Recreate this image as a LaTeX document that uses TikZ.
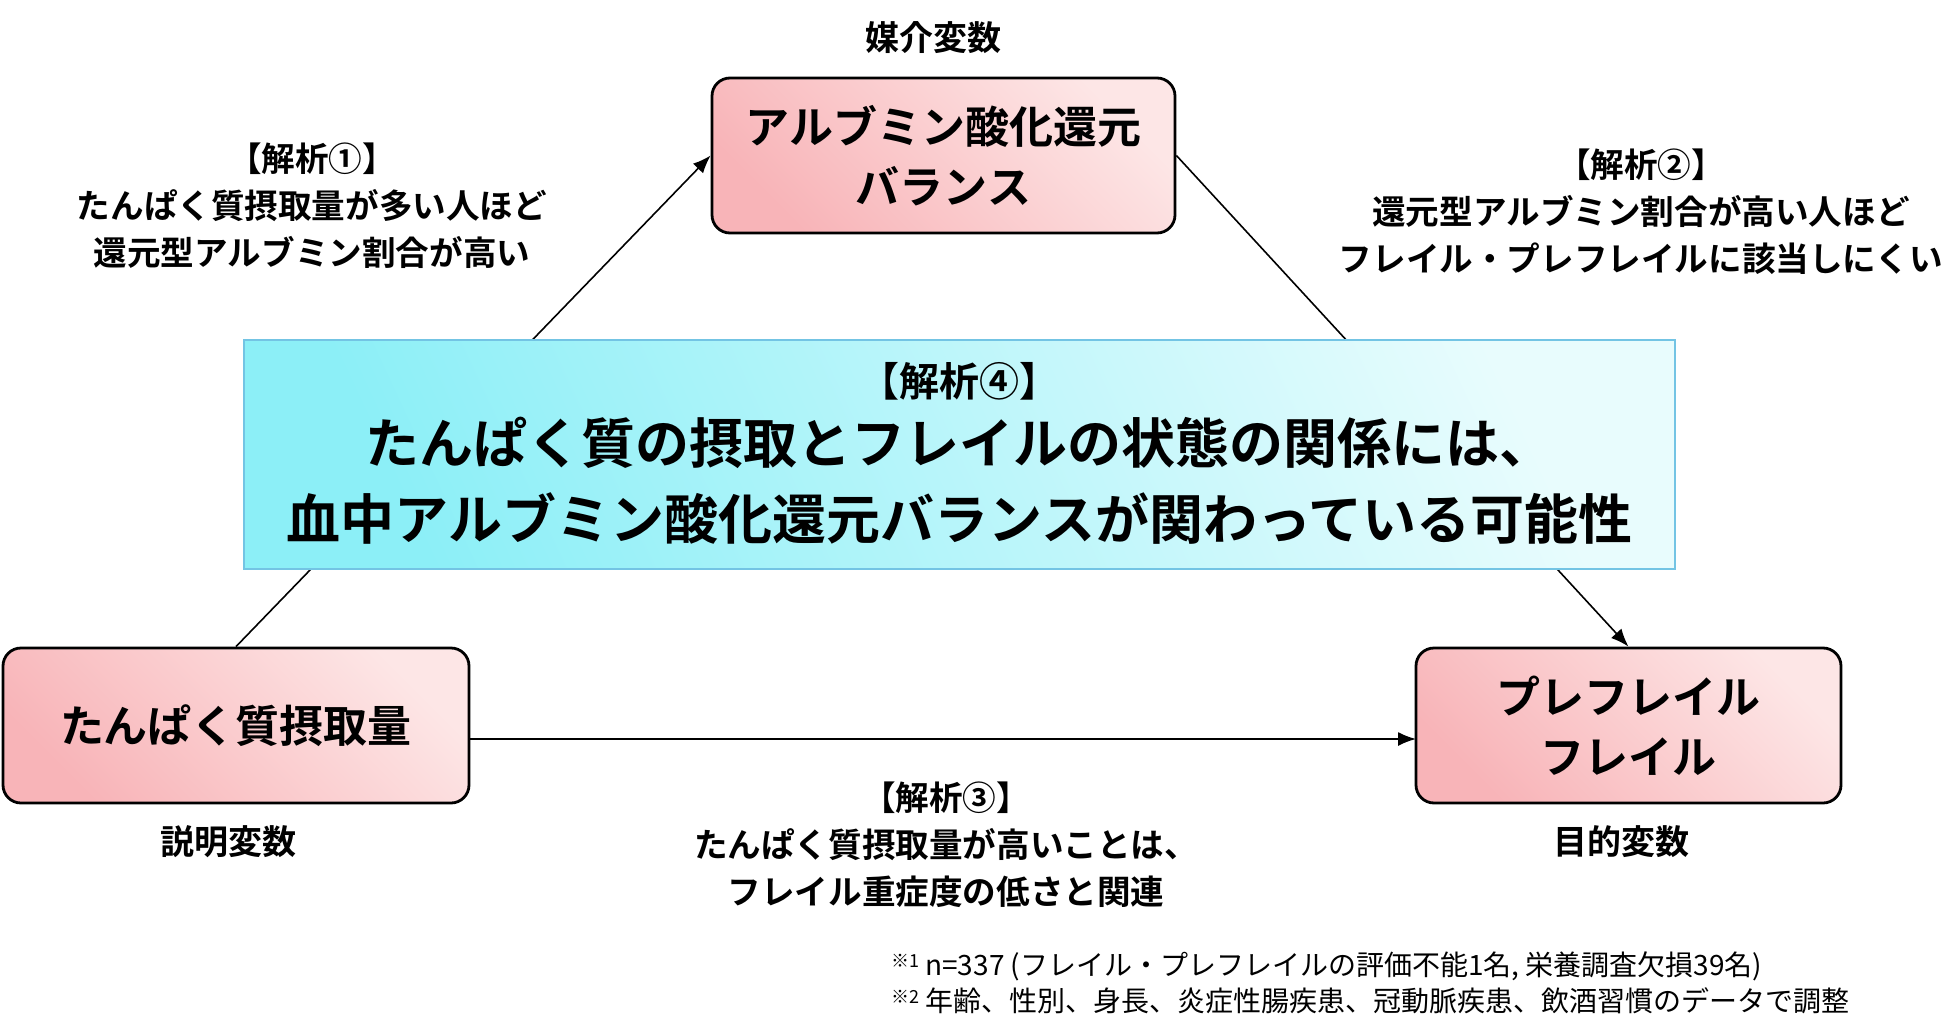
\documentclass[tikz,border=0pt]{standalone}
\usepackage{fontspec}
\setmainfont{Noto Sans CJK JP}
\newfontfamily\jpb{Noto Sans CJK JP Bold}[BoldFont={Noto Sans CJK JP Bold}]
\usetikzlibrary{arrows.meta}
\definecolor{pinkA}{HTML}{F8B4B8}
\definecolor{pinkB}{HTML}{FDE6E6}
\definecolor{cyA}{HTML}{8CEFF7}
\definecolor{cyB}{HTML}{E8FCFD}
\begin{document}
\begin{tikzpicture}[x=0.5pt,y=-0.5pt,
  pbox/.style={draw=black,line width=1.4pt,rounded corners=9pt,left color=pinkA,right color=pinkB,shading angle=135,inner sep=0pt,align=center,font=\jpb\fontsize{22}{30}\selectfont},
  ann/.style={align=center,font=\jpb\fontsize{16.8}{23.5}\selectfont},
  lab/.style={font=\jpb\fontsize{17}{20}\selectfont},
  conn/.style={line width=0.8pt},
  arr/.style={conn,-{Latex[length=9pt,width=7pt]}},
  foot/.style={anchor=west,font=\fontsize{14}{16}\selectfont}]
\useasboundingbox (0,0) rectangle (1950,1033);
% boxes
\node[pbox,minimum width=231.5pt,minimum height=77.5pt] (T) at (943.5,155.5) {アルブミン酸化還元\\バランス};
\node[pbox,minimum width=233pt,minimum height=77.5pt] (L) at (236,725.5) {たんぱく質摂取量};
\node[pbox,minimum width=212.5pt,minimum height=77.5pt] (R) at (1628.5,725.5) {プレフレイル\\フレイル};
% connectors (behind cyan box)
\draw[arr] (L.north) -- (T.west);
\draw[arr] (T.east) -- (R.north);
\coordinate (h1) at (469,739);
\coordinate (h2) at (1416,739);
\draw[arr] (h1) -- (h2);
% cyan box
\node[draw=cyan!70!teal!60,line width=1pt,left color=cyA,right color=cyB,shading angle=115,minimum width=715.5pt,minimum height=114.5pt,inner sep=0pt] (C) at (959.5,454.5) {};
\node[font=\jpb\fontsize{20}{24}\selectfont] (c1) at (959.5,381) {【解析④】};
\node[align=center,font=\jpb\fontsize{27}{38}\selectfont] (c2) at (959.5,481) {たんぱく質の摂取とフレイルの状態の関係には、\\血中アルブミン酸化還元バランスが関わっている可能性};
% labels
\node[lab] (m) at (933,38) {媒介変数};
\node[lab] (e) at (228,842) {説明変数};
\node[lab] (o) at (1621,842) {目的変数};
\node[ann] (a1) at (312,206) {【解析①】\\たんぱく質摂取量が多い人ほど\\還元型アルブミン割合が高い};
\node[ann] (a2) at (1641,212) {【解析②】\\還元型アルブミン割合が高い人ほど\\フレイル・プレフレイルに該当しにくい};
\node[ann] (a3) at (946,845) {【解析③】\\たんぱく質摂取量が高いことは、\\フレイル重症度の低さと関連};
% footnotes
\node[foot] (f1) at (884,966) {\raisebox{4pt}{\fontsize{9}{10}\selectfont ※1}\ n=337 (フレイル・プレフレイルの評価不能1名, 栄養調査欠損39名)};
\node[foot] (f2) at (884,1001) {\raisebox{4pt}{\fontsize{9}{10}\selectfont ※2}\ 年齢、性別、身長、炎症性腸疾患、冠動脈疾患、飲酒習慣のデータで調整};
\end{tikzpicture}
\end{document}
